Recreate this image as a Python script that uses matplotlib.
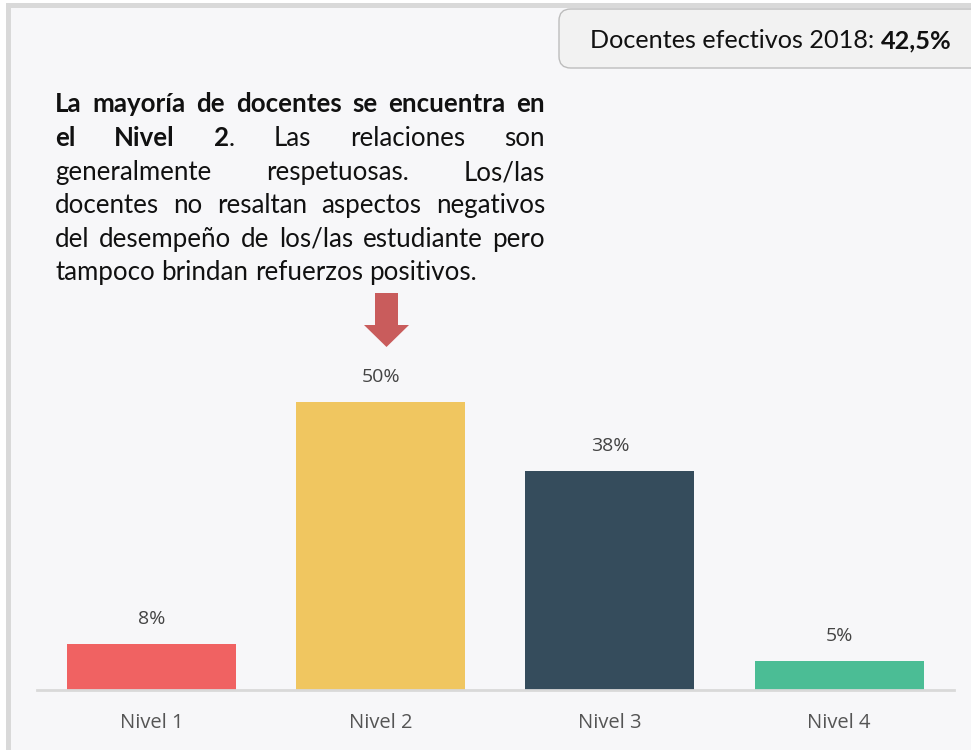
import matplotlib
matplotlib.use("Agg")
import matplotlib.pyplot as plt
from matplotlib.patches import Rectangle, FancyBboxPatch, Polygon

categories = ["Nivel 1", "Nivel 2", "Nivel 3", "Nivel 4"]
values = [8, 50, 38, 5]
value_labels = ["8%", "50%", "38%", "5%"]
bar_colors = ["#f06262", "#f0c660", "#354c5c", "#4bbd95"]
header_text = "Docentes efectivos 2018: "
header_value = "42,5%"
# paragraph lines: each line is a list of words; each word a list of (text, bold)
paragraph = [
    [[("La", True)], [("mayoría", True)], [("de", True)], [("docentes", True)], [("se", True)], [("encuentra", True)], [("en", True)]],
    [[("el", True)], [("Nivel", True)], [("2", True), (".", False)], [("Las", False)], [("relaciones", False)], [("son", False)]],
    [[("generalmente", False)], [("respetuosas.", False)], [("Los/las", False)]],
    [[(w, False)] for w in "docentes no resaltan aspectos negativos".split()],
    [[(w, False)] for w in "del desempeño de los/las estudiante pero".split()],
    [[(w, False)] for w in "tampoco brindan refuerzos positivos.".split()],
]

W, H = 971, 750
BG = "#f7f7f9"
fig = plt.figure(figsize=(W / 100, H / 100), dpi=100, facecolor="white")

def fx(px):
    return px / W

def fy(py):
    return 1 - py / H

# outer panel with partial frame
fig.patches.append(Rectangle((fx(7.5), fy(1000)), fx(1200), (1000 - 4.5) / H,
                             transform=fig.transFigure, facecolor=BG, edgecolor="#d9d9d9",
                             linewidth=3.6, zorder=-5))

# header box
fig.patches.append(FancyBboxPatch((fx(559), fy(68)), fx(460), 59 / H,
                                  boxstyle="round,pad=0,rounding_size=0.012",
                                  transform=fig.transFigure, facecolor="#f2f2f2",
                                  edgecolor="#bdbdbd", linewidth=1.0, zorder=-4,
                                  mutation_aspect=W / H))
hf = "Lato"
hs = 18.2
t1 = fig.text(fx(590), fy(41), header_text, fontsize=hs, family=hf, color="#111111",
              va="center", ha="left", zorder=2)
fig.canvas.draw()
r = fig.canvas.get_renderer()
bb = t1.get_window_extent(r)
fig.text((bb.x1) / W, fy(41), header_value, fontsize=hs, family=hf, weight="bold",
         color="#111111", va="center", ha="left", zorder=2)

# justified paragraph
ps = 18.6
left, right = 55, 545
baselines = [112, 146, 180, 213, 247, 280]

def measure(txt, bold):
    t = fig.text(0, 0, txt, fontsize=ps, family=hf, weight="bold" if bold else "normal")
    w = t.get_window_extent(r).width
    t.remove()
    return w

space_w = measure("a a", False) - 2 * measure("a", False)
for i, line in enumerate(paragraph):
    widths = [[measure(t, b) for t, b in word] for word in line]
    totals = [sum(w) for w in widths]
    last = i == len(paragraph) - 1
    if last or len(line) == 1:
        gap = space_w
    else:
        gap = (right - left - sum(totals)) / (len(line) - 1)
    x = left
    for word, ws in zip(line, widths):
        xx = x
        for (t, b), w in zip(word, ws):
            fig.text(fx(xx), fy(baselines[i]), t, fontsize=ps, family=hf,
                     weight="bold" if b else "normal", color="#111111",
                     va="baseline", ha="left")
            xx += w
        x += sum(ws) + gap

# bar axes
ax_left, ax_right, ax_base = 36.8, 953.8, 690
ymax = 60
px_per = 5.76
ax = fig.add_axes([fx(ax_left), fy(ax_base), fx(ax_right - ax_left), ymax * px_per / H])
ax.set_facecolor("none")
ax.set_zorder(1)
xs = list(range(len(categories)))
ax.bar(xs, values, width=0.737, color=bar_colors, zorder=2)
ax.set_xlim(-0.5, len(categories) - 0.5)
ax.set_ylim(0, ymax)
for x, v, lab in zip(xs, values, value_labels):
    ax.annotate(lab, (x, v), xytext=(0, 18), textcoords="offset points",
                ha="center", va="center", fontsize=14, family="Open Sans", color="#444444")
ax.set_xticks(xs)
ax.set_xticklabels(categories, fontsize=14.5, family="Open Sans", color="#555555")
ax.tick_params(axis="x", length=0, pad=16.5)
ax.set_yticks([])
for s in ["top", "right", "left"]:
    ax.spines[s].set_visible(False)
ax.spines["bottom"].set_color("#d9d9d9")
ax.spines["bottom"].set_linewidth(2)

# arrow pointing at Nivel 2
arrow_pts = [(375, 293), (398, 293), (398, 325), (409, 325), (386.5, 347), (364, 325), (375, 325)]
fig.patches.append(Polygon([(fx(a), fy(b)) for a, b in arrow_pts], closed=True,
                           transform=fig.transFigure, facecolor="#c95c5c", edgecolor="none", zorder=3))

fig.savefig("out.png", dpi=100, facecolor="white")
